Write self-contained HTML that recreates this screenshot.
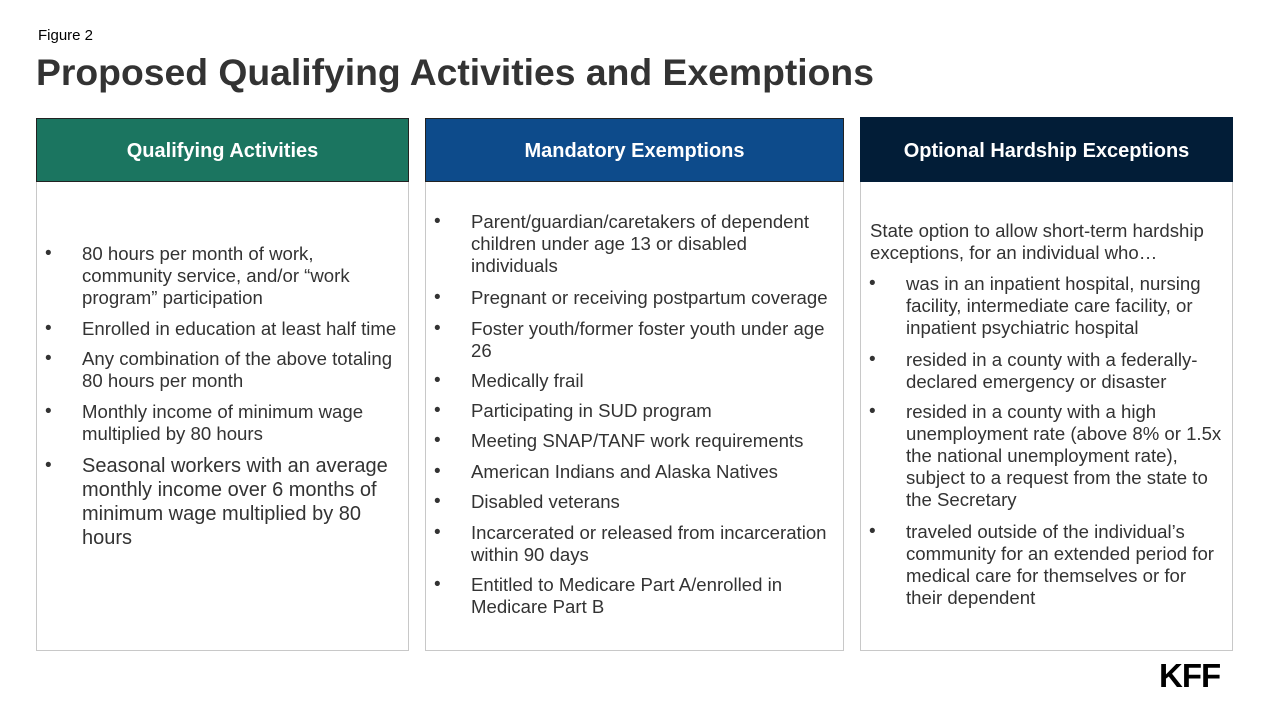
<!DOCTYPE html>
<html><head><meta charset="utf-8"><style>
body{margin:0;width:1280px;height:720px;background:#fff;font-family:"Liberation Sans",Arial,sans-serif;color:#333;position:relative;overflow:hidden}
.a{position:absolute;white-space:nowrap}
.box{position:absolute;border:1px solid #c8c8c8;box-sizing:border-box}
.hd{position:absolute;color:#fff;font-weight:bold;font-size:20px;display:flex;align-items:center;justify-content:center;box-sizing:border-box;padding-top:3px}
.t{position:absolute;font-size:18.6px;line-height:22px;color:#333;white-space:nowrap}
.b{position:absolute;font-size:19px;line-height:22px;color:#333}
</style></head><body>
<div class="a" style="left:38px;top:27px;font-size:15px;color:#000">Figure 2</div>
<div class="a" style="left:36px;top:51px;font-size:37.3px;font-weight:bold;color:#333">Proposed Qualifying Activities and Exemptions</div>

<div class="box" style="left:36px;top:118px;width:373px;height:533px"></div>
<div class="hd" style="left:36px;top:118px;width:373px;height:64px;background:#1b7560;border:1px solid #222">Qualifying Activities</div>
<div class="box" style="left:425px;top:118px;width:419px;height:533px"></div>
<div class="hd" style="left:425px;top:118px;width:419px;height:64px;background:#0d4b8b;border:1px solid #222">Mandatory Exemptions</div>
<div class="box" style="left:860px;top:117px;width:373px;height:534px"></div>
<div class="hd" style="left:860px;top:117px;width:373px;height:65px;background:#021d37">Optional Hardship Exceptions</div>

<!-- col1 -->
<div class="b" style="left:45px;top:243px">•</div>
<div class="t" style="left:82px;top:243px">80 hours per month of work,<br>community service, and/or “work<br>program” participation</div>
<div class="b" style="left:45px;top:318px">•</div>
<div class="t" style="left:82px;top:318px">Enrolled in education at least half time</div>
<div class="b" style="left:45px;top:348px">•</div>
<div class="t" style="left:82px;top:348px">Any combination of the above totaling<br>80 hours per month</div>
<div class="b" style="left:45px;top:401px">•</div>
<div class="t" style="left:82px;top:401px">Monthly income of minimum wage<br>multiplied by 80 hours</div>
<div class="b" style="left:45px;top:455px">•</div>
<div class="t" style="left:82px;top:454px;font-size:20px;line-height:24px">Seasonal workers with an average<br>monthly income over 6 months of<br>minimum wage multiplied by 80<br>hours</div>

<!-- col2 -->
<div class="b" style="left:434px;top:211px">•</div>
<div class="t" style="left:471px;top:211px">Parent/guardian/caretakers of dependent<br>children under age 13 or disabled<br>individuals</div>
<div class="b" style="left:434px;top:287px">•</div>
<div class="t" style="left:471px;top:287px">Pregnant or receiving postpartum coverage</div>
<div class="b" style="left:434px;top:318px">•</div>
<div class="t" style="left:471px;top:318px">Foster youth/former foster youth under age<br>26</div>
<div class="b" style="left:434px;top:370px">•</div>
<div class="t" style="left:471px;top:370px">Medically frail</div>
<div class="b" style="left:434px;top:400px">•</div>
<div class="t" style="left:471px;top:400px">Participating in SUD program</div>
<div class="b" style="left:434px;top:430px">•</div>
<div class="t" style="left:471px;top:430px">Meeting SNAP/TANF work requirements</div>
<div class="b" style="left:434px;top:461px">•</div>
<div class="t" style="left:471px;top:461px">American Indians and Alaska Natives</div>
<div class="b" style="left:434px;top:491px">•</div>
<div class="t" style="left:471px;top:491px">Disabled veterans</div>
<div class="b" style="left:434px;top:522px">•</div>
<div class="t" style="left:471px;top:522px">Incarcerated or released from incarceration<br>within 90 days</div>
<div class="b" style="left:434px;top:574px">•</div>
<div class="t" style="left:471px;top:574px">Entitled to Medicare Part A/enrolled in<br>Medicare Part B</div>

<!-- col3 -->
<div class="t" style="left:870px;top:220px">State option to allow short-term hardship<br>exceptions, for an individual who…</div>
<div class="b" style="left:869px;top:273px">•</div>
<div class="t" style="left:906px;top:273px">was in an inpatient hospital, nursing<br>facility, intermediate care facility, or<br>inpatient psychiatric hospital</div>
<div class="b" style="left:869px;top:349px">•</div>
<div class="t" style="left:906px;top:349px">resided in a county with a federally-<br>declared emergency or disaster</div>
<div class="b" style="left:869px;top:401px">•</div>
<div class="t" style="left:906px;top:401px">resided in a county with a high<br>unemployment rate (above 8% or 1.5x<br>the national unemployment rate),<br>subject to a request from the state to<br>the Secretary</div>
<div class="b" style="left:869px;top:521px">•</div>
<div class="t" style="left:906px;top:521px">traveled outside of the individual’s<br>community for an extended period for<br>medical care for themselves or for<br>their dependent</div>

<div class="a" style="left:1159px;top:657px;font-size:33px;font-weight:bold;color:#000;letter-spacing:-1px">KFF</div>
</body></html>
